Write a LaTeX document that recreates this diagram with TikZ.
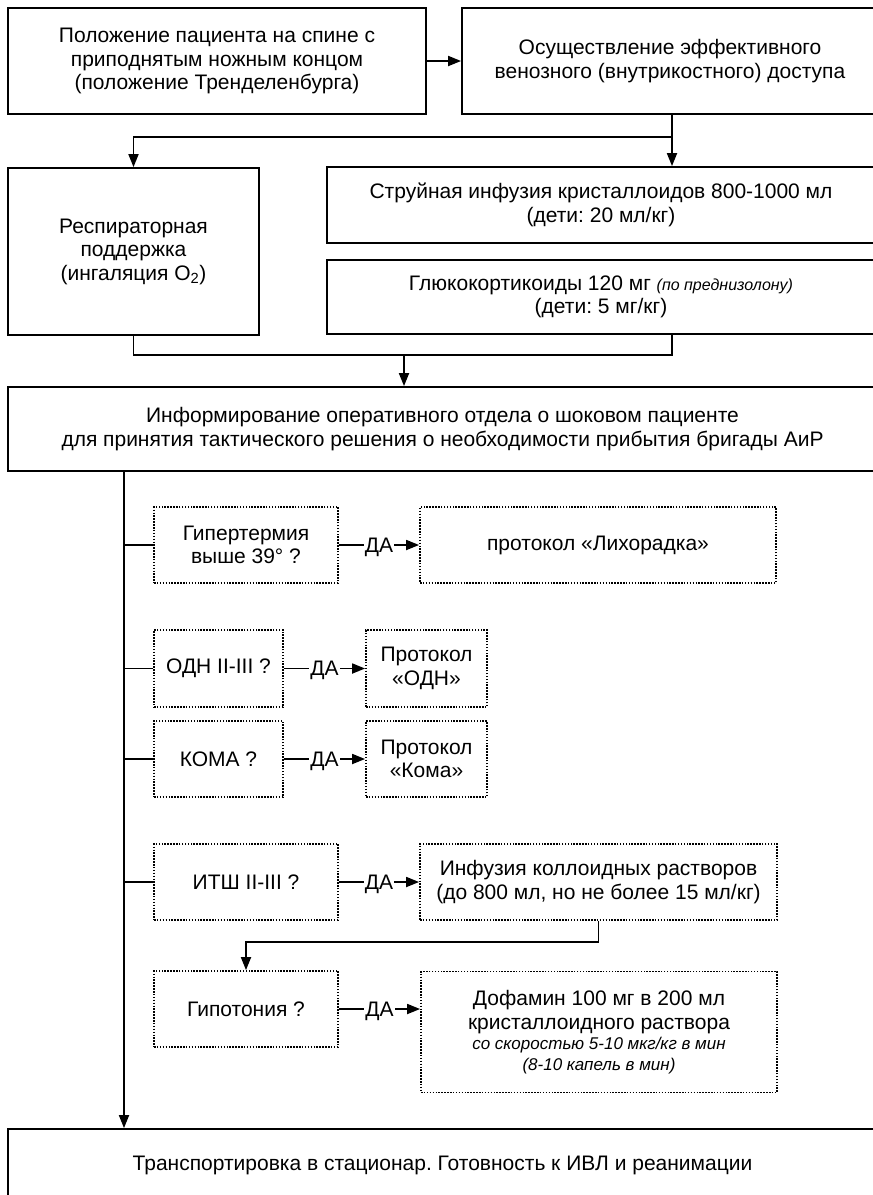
\documentclass[tikz,border=0pt]{standalone}
\usepackage{fontspec}
\setmainfont{Liberation Sans}
\usetikzlibrary{arrows.meta}
\frenchspacing
\tikzset{
  ln/.style={line width=1.8pt},
  arr/.style={line width=1.8pt,-{Triangle[length=13pt,width=10pt]}},
  sbox/.style={draw,line width=1.8pt,align=center,inner sep=0pt,font=\fontsize{21}{23.5}\selectfont},
  dbox/.style={draw,line width=1.8pt,dash pattern=on 1.5pt off 1.4pt,align=center,inner sep=0pt,font=\fontsize{21}{23.5}\selectfont},
  yes/.style={fill=white,inner sep=1pt,text depth=0pt,font=\fontsize{21}{23.5}\selectfont}
}
\begin{document}
\begin{tikzpicture}[x=1pt,y=-1pt]
\useasboundingbox (0,0) rectangle (873,1195);
\clip (0,0) rectangle (873,1195);
% top row
\node[sbox,minimum width=418pt,minimum height=106pt] (b1) at (217,61)
  {Положение пациента на спине с\\приподнятым ножным концом\\(положение Тренделенбурга)};
\node[sbox,minimum width=420pt,minimum height=106pt] (b2) at (672,61)
  {\hspace*{-4pt}Осуществление эффективного\\\hspace*{-4pt}венозного (внутрикостного) доступа};
\node[sbox,minimum width=251pt,minimum height=167pt] (b3) at (133.5,251.5)
  {Респираторная\\поддержка\\(ингаляция O\textsubscript{2})};
\node[sbox,minimum width=548pt,minimum height=76pt] (b4) at (601,205)
  {Струйная инфузия кристаллоидов 800-1000 мл\\(дети: 20 мл/кг)};
\node[sbox,minimum width=548pt,minimum height=74pt] (b5) at (601,297)
  {Глюкокортикоиды 120 мг {\fontsize{16}{20}\selectfont\itshape (по преднизолону)}\\(дети: 5 мг/кг)};
\node[sbox,minimum width=869pt,minimum height=84pt] (info) at (442.5,429)
  {Информирование оперативного отдела о шоковом пациенте\\для принятия тактического решения о необходимости прибытия бригады АиР};
\node[sbox,minimum width=869pt,minimum height=72pt] (tb) at (442.5,1165)
  {Транспортировка в стационар. Готовность к ИВЛ и реанимации};
% question boxes
\node[dbox,minimum width=184pt,minimum height=76pt] (q1) at (246,545) {Гипертермия\\выше 39° ?};
\node[dbox,minimum width=356pt,minimum height=76pt] (a1) at (598,545) {протокол «Лихорадка»};
\node[dbox,minimum width=129pt,minimum height=77pt] (q2) at (218.5,668.5) {ОДН II-III ?};
\node[dbox,minimum width=121pt,minimum height=77pt] (a2) at (426.5,668.5) {Протокол\\«ОДН»};
\node[dbox,minimum width=129pt,minimum height=76pt] (q3) at (218.5,759) {КОМА ?};
\node[dbox,minimum width=121pt,minimum height=76pt] (a3) at (426.5,759) {Протокол\\«Кома»};
\node[dbox,minimum width=184pt,minimum height=76pt] (q4) at (246,882) {ИТШ II-III ?};
\node[dbox,minimum width=357pt,minimum height=76pt] (a4) at (598.5,882) {Инфузия коллоидных растворов\\(до 800 мл, но не более 15 мл/кг)};
\node[dbox,minimum width=184pt,minimum height=76pt] (q5) at (246,1009) {Гипотония ?};
\node[dbox,minimum width=356pt,minimum height=121pt] (a5) at (599,1032)
  {Дофамин 100 мг в 200 мл\\кристаллоидного раствора\\[-3pt]{\fontsize{17}{20}\selectfont\itshape со скоростью 5-10 мкг/кг в мин}\\[-3pt]{\fontsize{17}{20}\selectfont\itshape (8-10 капель в мин)}};
% coordinates
\coordinate (sp) at (0,137);
\coordinate (mg) at (404,355);
\coordinate (tr) at (124,0);
\coordinate (kk) at (0,942);
% connectors
\draw[arr] (b1.east) -- (b2.west);
\draw[arr] (b2.south) -- (b2.south |- b4.north);
\draw[arr] (b2.south |- sp) -| (b3.north);
\draw[ln] (b3.south) -- (b3.south |- mg) -- (b2.south |- mg) -- (b2.south |- b5.south);
\draw[arr] (mg) -- (mg |- info.north);
\draw[arr] (tr |- info.south) -- (tr |- tb.north);
\foreach \q in {q1,q2,q3,q4} \draw[ln] (tr |- \q.west) -- (\q.west);
\draw[arr] (q1.east) -- node[yes] {ДА} (a1.west);
\draw[arr] (q2.east) -- node[yes] {ДА} (a2.west);
\draw[arr] (q3.east) -- node[yes] {ДА} (a3.west);
\draw[arr] (q4.east) -- node[yes] {ДА} (a4.west);
\draw[arr] (q5.east) -- node[yes] {ДА} (q5.east -| a5.west);
\draw[arr] (a4.south) -- (a4.south |- kk) -| (q5.north);
\end{tikzpicture}
\end{document}
